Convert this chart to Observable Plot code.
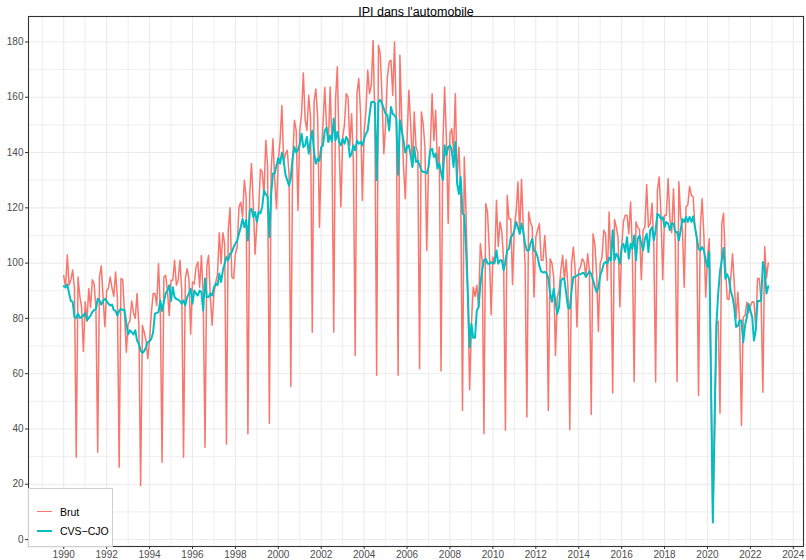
<!DOCTYPE html>
<html><head><meta charset="utf-8">
<script src="https://cdn.jsdelivr.net/npm/d3@7"></script>
<script src="https://cdn.jsdelivr.net/npm/@observablehq/plot@0.6"></script>
<style>
body{margin:0;background:#fff;font-family:"Liberation Sans",Arial,sans-serif;}
#wrap{position:relative;width:806px;height:560px;}
#legend{position:absolute;left:28px;top:488px;width:83px;height:57px;background:#fff;border:1px solid #cfcfcf;}
.item{position:absolute;left:0;height:14px;font-size:10.5px;color:#000;}
.key{position:absolute;left:8px;top:6px;width:15px;height:0;border-top-style:solid;}
.lab{position:absolute;left:31px;top:0;line-height:14px;white-space:nowrap;}
</style></head><body><div id="wrap"></div>
<script>
const title = "IPI dans l'automobile";
const seriesNames = ["Brut", "CVS\u2212CJO"];
const seriesColors = ["#F8766D", "#00BFC4"];
const startYear = 1990;
const xTicks = [1990,1992,1994,1996,1998,2000,2002,2004,2006,2008,2010,2012,2014,2016,2018,2020,2022,2024];
const xMinor = [1989,1991,1993,1995,1997,1999,2001,2003,2005,2007,2009,2011,2013,2015,2017,2019,2021,2023];
const yTicks = [0,20,40,60,80,100,120,140,160,180];
const yMinor = [10,30,50,70,90,110,130,150,170];

// Indice brut, mensuel, janvier 1990 -> novembre 2022
const brut = [
 95.5,91,103,92,94,97.5,91,29.8,95,88,84,68,
 86,79,90.7,84,94,92.5,84,31.6,95,99,87.7,77,
 90,91,95,91,88,96.8,87.7,26.2,94.4,94,81.7,67.8,
 78,79,86.3,82,80,89,78,19.5,77.5,75,72,65.4,
 72,82,89,89,84.7,99.8,84,28,95,95.6,90,81,
 93.8,93.8,101,92,93.8,101,90,29.8,94.4,98,94.4,74.4,
 93.2,92.5,98.6,100.4,91.3,102.8,87.7,33.4,98.6,102.8,87.7,77.5,
 89,93,96,111,99.8,111,107,34.6,111.9,120,95,94.4,
 103.4,105.8,120.3,122,116.7,130,124,38.3,125,136,121.5,103.2,
 114.3,119,134,133,124.5,144.4,135.4,42.1,133.6,145,130,119.7,
 137,144.4,157,136.6,139.6,140.8,132.4,55.4,136.6,151.7,148,119,
 148,154,168.8,152,148,160.7,152.9,75,158.3,163,152.9,113,
 138.4,150.5,163.5,149,143.8,163.7,143,75,159,171,142,120.3,
 145.6,150,161.3,160,142.6,154,136,66.6,161.3,166.8,154,122.7,
 147.5,155,169.8,161.3,164.3,180.5,151.7,59.4,178.8,175.8,160,139.6,
 150,167.4,172.8,173.4,160.7,180,153,59.4,175.2,152.5,135.4,123.3,
 144.4,162.5,150.5,134.8,154.7,142,140,61.8,154.7,150.5,142,104.6,
 134.8,142,161.3,144.4,155.3,135,142,61,142,163.7,145,114.3,
 146.8,148.6,140,161.3,130,142,126.3,46.7,138.4,118,88,54.2,
 78,91.3,88,92,84,107,101,38.3,121.5,118.5,104.6,81.3,
 102.2,99.8,122.7,106,114.9,111.3,101,39.5,124.5,116,116,92.3,
 113,118.5,129.3,110.6,130.3,113,99.8,44.3,118.5,114.9,113,87.7,
 109.4,111.9,114.3,101,101,110,100,46.7,101.6,100,95,66.6,
 87.7,90,97.4,102.8,94,101.2,91,39.7,100,105.8,97.4,76.9,
 97.4,98.6,101.6,100.4,95,103.4,97,45.2,110.6,107,96,75.3,
 99.8,102,111.9,110.6,93.8,118.5,100,53,115.8,113,109.4,84.1,
 105.8,114.9,117.3,117.3,110.6,122.1,104,57.1,114.9,113,112,94,
 111.9,113,128.4,113,114.3,121.7,106,57,126.3,131.2,117.3,94,
 117.3,117.3,130.6,116,111,126.9,108,57.2,129.4,117,112,91.3,
 120.3,121,127.8,124.5,124,113,109,52.1,113,123.3,110,87.7,
 102.2,108.8,57,7,38,78,79,45.7,114.3,118,99.8,87.1,
 86.8,94.4,103.4,92.5,80,89.5,78,41.3,80.5,81,85.9,82,
 84.3,86,85.9,76,94.4,94.4,86,53.3,106,94.6,100
];

// Indice CVS-CJO, mensuel, janvier 1990 -> novembre 2022
const cvsCjo = [
 91.6,91.3,92.3,89,86.3,86,80.5,80.2,81.7,80.2,80.5,81,
 82,79.3,80.2,81,82.3,83,83.4,87.1,86.5,85,86.3,87.1,
 86.3,85.3,84.7,85,83,82.7,81,82.7,83.5,83,83,78,
 74.2,75.7,75,74.2,75.7,72,70.8,68.4,67.5,68.2,69.6,71.4,
 71.8,72.6,75,81.7,82,82.3,86.5,82.7,86,89,90.1,92,
 86.3,91.3,87.7,87,86.8,86.3,85.3,86.5,84.7,87.7,89,90.7,
 85.3,90.1,89,88.3,90.1,89.5,82.9,94.4,87.7,87.7,89,88.3,
 91.3,92.5,92,96.2,93.2,97.4,99.8,102.2,101,103.4,104,105.8,
 107,108.2,110.6,113,116,113,115.5,108.2,119,119.7,116.7,118.5,
 114.9,118.5,118,120.3,126.3,125,124,109.4,125,132.4,132.4,135.4,
 138,136,140,137,132,130,128,131,138,142,140,141,
 143,146.8,142,142.6,145.6,139.6,144.4,148,140,136,137.8,137,
 142,142.6,148,149,143.8,146.2,144,152.3,144.4,147.5,143.8,142.6,
 145,143.2,145.6,144.4,138.4,139.6,142.6,140.8,144.4,143.2,143.8,142.6,
 145,146.8,148,153.5,158.3,158.3,158,130,158.3,159,157.7,155.9,
 154,153.5,148,156.5,154,153.5,152.3,132,151.7,148,144.4,140,
 142,142.6,139,134.8,142,136.6,137,135.4,133.6,133,133,132.4,
 134.8,140.8,141.4,138.4,139.6,134.2,136,133,130,142.6,139,142,
 142.6,140.8,134.8,143.8,128.7,125,131.2,117.9,117.3,105,88,69.6,
 78,73,73,82.9,84,92.5,97.4,101,101.6,99.8,99.8,100.4,
 99.8,100.4,104.6,99.8,101,101,97.4,100.4,104.6,105.2,109.4,110,
 111.9,114.9,113,110.6,114.3,111.3,107,104.6,104.6,107,108.8,104.6,
 104,102.2,99,97,96.6,96.8,96.4,94.5,89,86,90.7,86,
 81.7,84,93.5,94.5,94,89,84,83.5,90,95,95,95.5,
 96,96,96.4,96.4,95,96,97.1,96,94,91.5,89.5,91.2,
 95.6,97.4,99.8,100.4,99.8,102,101,111.9,101,103.4,102.2,99.8,
 105.8,107,104,109.4,101.6,107,105.2,110,101,108.8,110,107,
 104.6,108.8,110.6,104,111.9,113,108.2,111.9,117.9,117.3,116,116.6,
 113,114.9,114.3,111.9,114.3,114.3,111.3,111.3,108.2,111.9,116,114.9,
 116.7,114.9,116.7,114.9,116.9,113,109.4,105.2,104.6,105.8,104.6,101,
 98.6,104,56,6.2,45,78,89,97,101,105.5,94.4,96,
 94.4,90,87.7,84,76.9,77.3,79.2,79.2,71.4,77.4,80.5,85.3,
 82.9,80.5,72,75.7,86.3,86.3,86.5,100.4,97.4,89,91.6
];

const rows = brut.map((v, i) => ({t: startYear + i / 12, brut: v, cvs: cvsCjo[i]}));

// ggplot-like 5% expansion of the data ranges
const tMin = rows[0].t, tMax = rows[rows.length - 1].t;
const xPad = (tMax - tMin) * 0.05;
const allV = brut.concat(cvsCjo);
const vMin = d3.min(allV), vMax = d3.max(allV);
const yPad = (vMax - vMin) * 0.05;

const chart = Plot.plot({
  width: 806, height: 560,
  marginLeft: 28, marginRight: 3, marginTop: 16, marginBottom: 14,
  style: {background: "#fff", fontFamily: "'Liberation Sans', Arial, sans-serif"},
  x: {domain: [tMin - xPad, tMax + xPad], axis: null},
  y: {domain: [vMin - yPad, vMax + yPad], axis: null},
  marks: [
    Plot.ruleX(xMinor, {stroke: "#ebebeb", strokeWidth: 0.8}),
    Plot.ruleY(yMinor, {stroke: "#ebebeb", strokeWidth: 0.8}),
    Plot.ruleX(xTicks, {stroke: "#ebebeb", strokeWidth: 1.1}),
    Plot.ruleY(yTicks, {stroke: "#ebebeb", strokeWidth: 1.1}),
    Plot.lineY(rows, {x: "t", y: "brut", stroke: seriesColors[0], strokeWidth: 1.5}),
    Plot.lineY(rows, {x: "t", y: "cvs", stroke: seriesColors[1], strokeWidth: 2}),
    Plot.frame({stroke: "#333333", strokeWidth: 1.1}),
    Plot.axisX(xTicks, {tickSize: 3, tickPadding: 1.5, tickFormat: d => String(d), fontSize: 10, fill: "#4d4d4d", stroke: "#333333", label: null}),
    Plot.axisY(yTicks, {tickSize: 3, tickPadding: 2, tickFormat: d => String(d), fontSize: 10, fill: "#4d4d4d", stroke: "#333333", label: null}),
    Plot.text([title], {frameAnchor: "top", lineAnchor: "bottom", dy: -1, fontSize: 12.5, fill: "#000"})
  ]
});

const wrap = document.getElementById("wrap");
wrap.appendChild(chart);

const legend = document.createElement("div");
legend.id = "legend";
seriesNames.forEach((name, i) => {
  const item = document.createElement("div");
  item.className = "item";
  item.style.top = (16 + i * 19) + "px";
  const key = document.createElement("div");
  key.className = "key";
  key.style.borderTopColor = seriesColors[i];
  key.style.borderTopWidth = (i === 0 ? 1.5 : 2) + "px";
  const lab = document.createElement("div");
  lab.className = "lab";
  lab.textContent = name;
  item.appendChild(key);
  item.appendChild(lab);
  legend.appendChild(item);
});
wrap.appendChild(legend);
</script>
</body></html>
